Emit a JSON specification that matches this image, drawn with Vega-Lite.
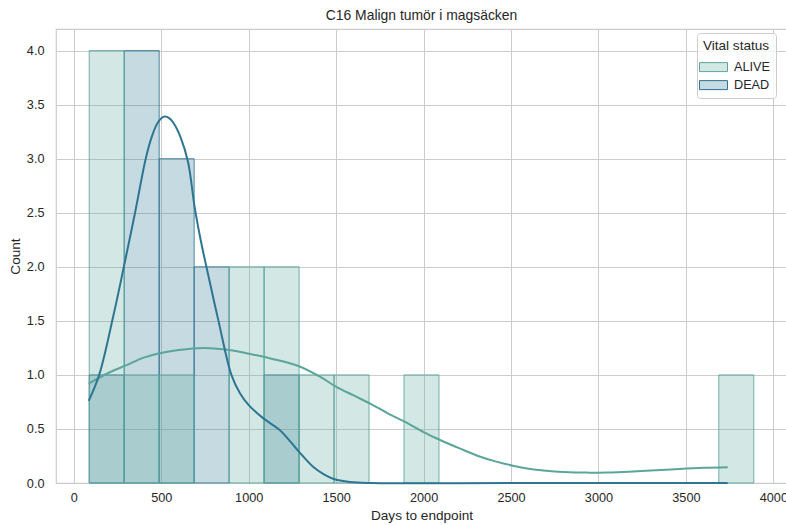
{
  "$schema": "https://vega.github.io/schema/vega-lite/v6.json",
  "width": 731,
  "height": 454,
  "autosize": {"type": "none"},
  "padding": {"left": 56, "top": 29, "right": 0, "bottom": 42},
  "title": {"text": "C16 Malign tumör i magsäcken", "fontSize": 13.9, "fontWeight": "normal", "color": "#262626", "font": "Liberation Sans", "offset": 6},
  "config": {
    "font": "Liberation Sans",
    "view": {"stroke": "#cccccc", "strokeWidth": 1.2},
    "axis": {"grid": true, "gridColor": "#cccccc", "gridWidth": 1, "domain": false, "ticks": false, "labelColor": "#262626", "labelFontSize": 12.7, "titleColor": "#262626", "titleFontSize": 13.6, "titleFontWeight": "normal", "labelFont": "Liberation Sans", "titleFont": "Liberation Sans"},
    "legend": {"labelFont": "Liberation Sans", "titleFont": "Liberation Sans"}
  },
  "datasets": {
    "bars": [
      {"status": "DEAD", "start": 88, "end": 288, "count": 1},
      {"status": "DEAD", "start": 288, "end": 488, "count": 4},
      {"status": "DEAD", "start": 488, "end": 688, "count": 3},
      {"status": "DEAD", "start": 688, "end": 888, "count": 2},
      {"status": "DEAD", "start": 1088, "end": 1288, "count": 1},
      {"status": "ALIVE", "start": 88, "end": 288, "count": 4},
      {"status": "ALIVE", "start": 288, "end": 488, "count": 1},
      {"status": "ALIVE", "start": 488, "end": 688, "count": 1},
      {"status": "ALIVE", "start": 888, "end": 1088, "count": 2},
      {"status": "ALIVE", "start": 1088, "end": 1288, "count": 2},
      {"status": "ALIVE", "start": 1288, "end": 1488, "count": 1},
      {"status": "ALIVE", "start": 1488, "end": 1688, "count": 1},
      {"status": "ALIVE", "start": 1888, "end": 2088, "count": 1},
      {"status": "ALIVE", "start": 3688, "end": 3888, "count": 1}
    ],
    "kde": [
      {"status": "ALIVE", "days": 85, "count": 0.92},
      {"status": "ALIVE", "days": 200, "count": 1.02},
      {"status": "ALIVE", "days": 301, "count": 1.09},
      {"status": "ALIVE", "days": 400, "count": 1.16},
      {"status": "ALIVE", "days": 491, "count": 1.2},
      {"status": "ALIVE", "days": 600, "count": 1.23},
      {"status": "ALIVE", "days": 739, "count": 1.25},
      {"status": "ALIVE", "days": 870, "count": 1.235},
      {"status": "ALIVE", "days": 987, "count": 1.2},
      {"status": "ALIVE", "days": 1130, "count": 1.15},
      {"status": "ALIVE", "days": 1287, "count": 1.08},
      {"status": "ALIVE", "days": 1400, "count": 0.99},
      {"status": "ALIVE", "days": 1501, "count": 0.89},
      {"status": "ALIVE", "days": 1600, "count": 0.81},
      {"status": "ALIVE", "days": 1700, "count": 0.73},
      {"status": "ALIVE", "days": 1800, "count": 0.64},
      {"status": "ALIVE", "days": 1900, "count": 0.56},
      {"status": "ALIVE", "days": 2000, "count": 0.47},
      {"status": "ALIVE", "days": 2091, "count": 0.4},
      {"status": "ALIVE", "days": 2206, "count": 0.32},
      {"status": "ALIVE", "days": 2320, "count": 0.245},
      {"status": "ALIVE", "days": 2410, "count": 0.2},
      {"status": "ALIVE", "days": 2510, "count": 0.16},
      {"status": "ALIVE", "days": 2600, "count": 0.132},
      {"status": "ALIVE", "days": 2701, "count": 0.113},
      {"status": "ALIVE", "days": 2800, "count": 0.102},
      {"status": "ALIVE", "days": 2930, "count": 0.096},
      {"status": "ALIVE", "days": 3050, "count": 0.098},
      {"status": "ALIVE", "days": 3177, "count": 0.105},
      {"status": "ALIVE", "days": 3300, "count": 0.115},
      {"status": "ALIVE", "days": 3463, "count": 0.13},
      {"status": "ALIVE", "days": 3600, "count": 0.14},
      {"status": "ALIVE", "days": 3739, "count": 0.145},
      {"status": "DEAD", "days": 85, "count": 0.76},
      {"status": "DEAD", "days": 145, "count": 1.0},
      {"status": "DEAD", "days": 225, "count": 1.54},
      {"status": "DEAD", "days": 286, "count": 2.0},
      {"status": "DEAD", "days": 350, "count": 2.5},
      {"status": "DEAD", "days": 411, "count": 3.0},
      {"status": "DEAD", "days": 445, "count": 3.2},
      {"status": "DEAD", "days": 475, "count": 3.32},
      {"status": "DEAD", "days": 500, "count": 3.375},
      {"status": "DEAD", "days": 522, "count": 3.39},
      {"status": "DEAD", "days": 545, "count": 3.375},
      {"status": "DEAD", "days": 570, "count": 3.33},
      {"status": "DEAD", "days": 610, "count": 3.2},
      {"status": "DEAD", "days": 653, "count": 2.97},
      {"status": "DEAD", "days": 691, "count": 2.55},
      {"status": "DEAD", "days": 725, "count": 2.25},
      {"status": "DEAD", "days": 758, "count": 2.0},
      {"status": "DEAD", "days": 827, "count": 1.5},
      {"status": "DEAD", "days": 901, "count": 1.0},
      {"status": "DEAD", "days": 950, "count": 0.83},
      {"status": "DEAD", "days": 1000, "count": 0.72},
      {"status": "DEAD", "days": 1082, "count": 0.6},
      {"status": "DEAD", "days": 1177, "count": 0.49},
      {"status": "DEAD", "days": 1240, "count": 0.38},
      {"status": "DEAD", "days": 1287, "count": 0.29},
      {"status": "DEAD", "days": 1368, "count": 0.15},
      {"status": "DEAD", "days": 1430, "count": 0.08},
      {"status": "DEAD", "days": 1482, "count": 0.04},
      {"status": "DEAD", "days": 1579, "count": 0.01},
      {"status": "DEAD", "days": 1700, "count": 0},
      {"status": "DEAD", "days": 2500, "count": 0},
      {"status": "DEAD", "days": 3739, "count": 0}
    ]
  },
  "layer": [
    {
      "data": {"name": "bars"},
      "mark": {"type": "bar", "fillOpacity": 0.27, "strokeOpacity": 0.85, "strokeWidth": 1},
      "encoding": {
        "x": {"field": "start", "type": "quantitative", "scale": {"domain": [-102, 4078], "nice": false, "zero": false}, "axis": {"title": "Days to endpoint", "values": [0, 500, 1000, 1500, 2000, 2500, 3000, 3500, 4000], "format": "d", "labelPadding": 8, "titlePadding": 5}},
        "x2": {"field": "end"},
        "y": {"field": "count", "type": "quantitative", "scale": {"domain": [0, 4.2], "nice": false}, "axis": {"title": "Count", "values": [0, 0.5, 1, 1.5, 2, 2.5, 3, 3.5, 4], "format": ".1f", "labelPadding": 12, "titlePadding": 4}},
        "y2": {"datum": 0},
        "fill": {"field": "status", "type": "nominal", "scale": {"domain": ["ALIVE", "DEAD"], "range": ["#5ba59a", "#2e7592"]},
          "legend": {"title": "Vital status", "orient": "none", "legendX": 641, "legendY": 4, "symbolType": "M-1.4,-0.45L1.4,-0.45L1.4,0.45L-1.4,0.45Z", "symbolSize": 400, "symbolStrokeWidth": 1, "labelFontSize": 12.7, "titleFontSize": 13.6, "titleFontWeight": "normal", "titleColor": "#262626", "labelColor": "#262626", "labelOffset": 10, "fillColor": "rgba(255,255,255,0.8)", "strokeColor": "#cccccc", "cornerRadius": 3, "padding": 6, "rowPadding": -2, "titleAnchor": "middle", "titlePadding": 4,
            "encode": {"symbols": {"update": {"fillOpacity": {"value": 0.27}, "strokeOpacity": {"value": 1}, "stroke": {"scale": "fill", "field": "value"}}}}}},
        "stroke": {"field": "status", "type": "nominal", "scale": {"domain": ["ALIVE", "DEAD"], "range": ["#5ba59a", "#2e7592"]}, "legend": null},
        "order": {"field": "status", "sort": "descending"}
      }
    },
    {
      "data": {"name": "kde"},
      "mark": {"type": "line", "strokeWidth": 2, "interpolate": "catmull-rom"},
      "encoding": {
        "x": {"field": "days", "type": "quantitative"},
        "y": {"field": "count", "type": "quantitative"},
        "stroke": {"field": "status", "type": "nominal", "legend": null},
        "detail": {"field": "status"}
      }
    }
  ]
}
